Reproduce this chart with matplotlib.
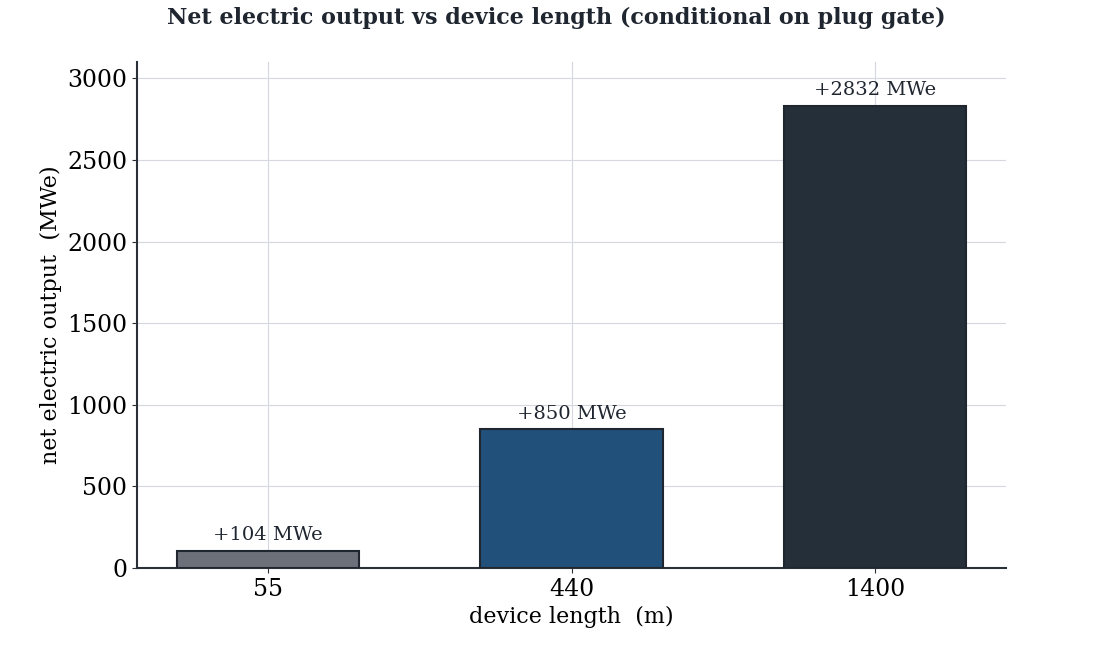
import matplotlib
matplotlib.use("Agg")
import matplotlib.pyplot as plt

categories = ["55", "440", "1400"]
values = [104, 850, 2832]
labels = ["+104 MWe", "+850 MWe", "+2832 MWe"]
colors = ["#6b7079", "#21507a", "#252f3a"]

plt.rcParams['font.family'] = ['DejaVu Serif']
fig = plt.figure(figsize=(11.13, 6.62), dpi=100)
ax = fig.add_axes([137/1113, 1-568/662, (1006-137)/1113, (568-62)/662])
x = range(len(categories))
ax.bar(x, values, width=0.6, color=colors, edgecolor="#1f2630", linewidth=1.5, zorder=3)
for xi, v, l in zip(x, values, labels):
    ax.text(xi, v + 40, l, ha="center", va="bottom", fontsize=14, color="#1f2630")
ax.set_xlim(-0.43, 2.43)
ax.set_ylim(0, 3100)
ax.set_xticks(list(x))
ax.set_xticklabels(categories)
ax.set_yticks([0, 500, 1000, 1500, 2000, 2500, 3000])
ax.tick_params(labelsize=17, color="#2a2f38")
ax.grid(True, color="#d5d8de", linewidth=0.8, zorder=0)
for s in ["top", "right"]:
    ax.spines[s].set_visible(False)
for s in ["left", "bottom"]:
    ax.spines[s].set_color("#2a2f38")
    ax.spines[s].set_linewidth(1.5)
ax.set_xlabel("device length  (m)", fontsize=16)
ax.set_ylabel("net electric output  (MWe)", fontsize=16)
fig.text(0.5, 1-18/662, "Net electric output vs device length (conditional on plug gate)",
         ha="center", va="center", fontsize=16, fontweight="bold", color="#1f2630")
fig.savefig("out.png", dpi=100)
